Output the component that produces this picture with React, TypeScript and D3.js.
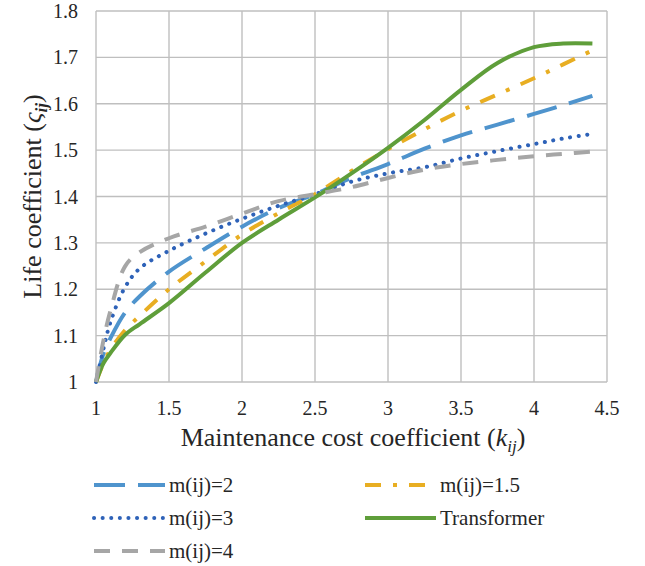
import React from 'react';
import * as d3 from 'd3';

// maintenance cost coefficient (x)
const kValues = [1, 1.05, 1.1, 1.2, 1.3, 1.5, 1.75, 2, 2.25, 2.5, 2.75, 3, 3.25, 3.5, 3.75, 4, 4.2, 4.4];

// life coefficient series
const m2 = [1, 1.06, 1.095, 1.15, 1.185, 1.238, 1.288, 1.335, 1.375, 1.405, 1.44, 1.47, 1.503, 1.532, 1.555, 1.578, 1.597, 1.617];
const m15 = [1, 1.04, 1.07, 1.112, 1.143, 1.2, 1.26, 1.318, 1.364, 1.405, 1.455, 1.502, 1.545, 1.585, 1.62, 1.655, 1.685, 1.715];
const m3 = [1, 1.07, 1.13, 1.205, 1.245, 1.283, 1.32, 1.352, 1.38, 1.405, 1.432, 1.45, 1.463, 1.482, 1.498, 1.513, 1.525, 1.535];
const transformer = [1, 1.04, 1.063, 1.102, 1.125, 1.17, 1.236, 1.3, 1.35, 1.398, 1.45, 1.505, 1.565, 1.63, 1.688, 1.722, 1.73, 1.73];
const m4 = [1, 1.088, 1.155, 1.25, 1.28, 1.31, 1.335, 1.363, 1.39, 1.405, 1.42, 1.44, 1.458, 1.47, 1.479, 1.487, 1.492, 1.497];

const xTicks = [1, 1.5, 2, 2.5, 3, 3.5, 4, 4.5];
const yTicks = [1, 1.1, 1.2, 1.3, 1.4, 1.5, 1.6, 1.7, 1.8];

const series = [
  { name: 'm(ij)=2', values: m2, color: '#4f94cd', dash: '31 13', cap: 'butt' },
  { name: 'm(ij)=1.5', values: m15, color: '#e8ae22', dash: '16 12 4 12', cap: 'butt' },
  { name: 'm(ij)=3', values: m3, color: '#2e62b8', dash: '0.1 8.5', cap: 'round' },
  { name: 'Transformer', values: transformer, color: '#5f9e3a', dash: null, cap: 'butt' },
  { name: 'm(ij)=4', values: m4, color: '#a6a6a6', dash: '16 12', cap: 'butt' },
];

const W = 645;
const H = 566;
const margin = { left: 96, right: 38, top: 11, bottom: 184 };
const font = "'Liberation Serif', 'Times New Roman', serif";
const textColor = '#262626';

export default function App() {
  const x = d3.scaleLinear().domain([1, 4.5]).range([margin.left, W - margin.right]);
  const y = d3.scaleLinear().domain([1, 1.8]).range([H - margin.bottom, margin.top]);

  const line = d3
    .line<number>()
    .x((_, i) => x(kValues[i]))
    .y((d) => y(d))
    .curve(d3.curveCatmullRom.alpha(0.5));

  // legend positions: two columns, rows filled left-right
  const legendCols = [94, 365];
  const legendRows = [485, 518, 551];

  return (
    <svg
      width={W}
      height={H}
      style={{ position: 'absolute', left: 0, top: 0, background: '#fff', fontFamily: font }}
    >
      {/* grid */}
      <g stroke="#bfbfbf" strokeWidth={1.4}>
        {xTicks.map((t) => (
          <line key={'gx' + t} x1={x(t)} x2={x(t)} y1={y(1)} y2={y(1.8)} />
        ))}
        {yTicks.map((t) => (
          <line key={'gy' + t} x1={x(1)} x2={x(4.5)} y1={y(t)} y2={y(t)} />
        ))}
      </g>

      {/* tick labels */}
      <g fill={textColor} fontSize={20}>
        {yTicks.map((t) => (
          <text key={'ty' + t} x={x(1) - 18} y={y(t)} dy="0.35em" textAnchor="end">
            {d3.format('~g')(t)}
          </text>
        ))}
        {xTicks.map((t) => (
          <text key={'tx' + t} x={x(t)} y={y(1) + 33} textAnchor="middle">
            {d3.format('~g')(t)}
          </text>
        ))}
      </g>

      {/* axis titles */}
      <text x={353} y={446} textAnchor="middle" fontSize={26} fill={textColor}>
        Maintenance cost coefficient (
        <tspan fontStyle="italic">k</tspan>
        <tspan fontStyle="italic" fontSize={17} dy={6}>ij</tspan>
        <tspan dy={-6}>)</tspan>
      </text>
      <text
        transform={`translate(41, ${y(1.4)}) rotate(-90)`}
        textAnchor="middle"
        fontSize={26}
        fill={textColor}
      >
        Life coefficient (
        <tspan fontStyle="italic">ς</tspan>
        <tspan fontStyle="italic" fontWeight="bold" fontSize={17} dy={6}>ij</tspan>
        <tspan dy={-6}>)</tspan>
      </text>

      {/* series lines */}
      {series.map((s) => (
        <path
          key={s.name}
          d={line(s.values) || ''}
          fill="none"
          stroke={s.color}
          strokeWidth={4}
          strokeDasharray={s.dash || undefined}
          strokeLinecap={s.cap as any}
        />
      ))}

      {/* legend */}
      {series.map((s, i) => {
        const lx = legendCols[i % 2];
        const ly = legendRows[Math.floor(i / 2)];
        return (
          <g key={'lg' + s.name}>
            <line
              x1={lx}
              x2={lx + 71}
              y1={ly}
              y2={ly}
              stroke={s.color}
              strokeWidth={4}
              strokeDasharray={s.dash || undefined}
              strokeLinecap={s.cap as any}
            />
            <text x={lx + 75} y={ly} dy="0.35em" fontSize={21} fill={textColor}>
              {s.name}
            </text>
          </g>
        );
      })}
    </svg>
  );
}
